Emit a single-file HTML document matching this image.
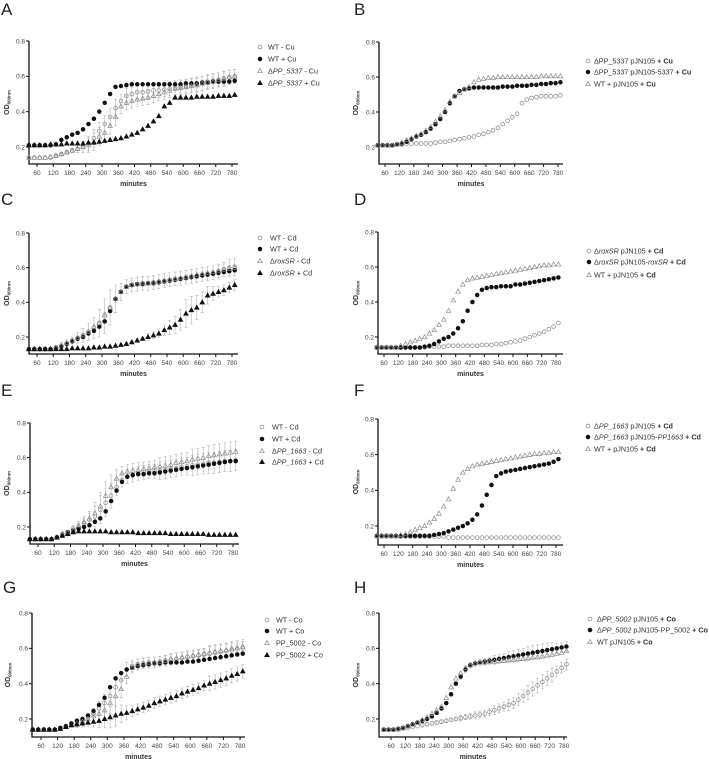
<!DOCTYPE html>
<html><head><meta charset="utf-8">
<style>
html,body{margin:0;padding:0;background:#fff;}
svg{display:block;font-family:"Liberation Sans",sans-serif;}
</style></head>
<body>
<svg id="fig" width="709" height="759" viewBox="0 0 709 759"></svg>
<script>
// Time points (minutes)
const times=[30,50,70,90,110,130,150,170,190,210,230,250,270,290,310,330,350,370,390,410,430,450,470,490,510,530,550,570,590,610,630,650,670,690,710,730,750,770,790];
const xTicks=[60,120,180,240,300,360,420,480,540,600,660,720,780];
const yTicks=[0.2,0.4,0.6,0.8];

// Panel A
const aWTminus=[0.14,0.14,0.14,0.14,0.14,0.15,0.16,0.17,0.18,0.19,0.20,0.22,0.25,0.29,0.33,0.37,0.42,0.46,0.49,0.50,0.51,0.51,0.515,0.52,0.52,0.525,0.53,0.535,0.54,0.545,0.55,0.555,0.56,0.57,0.575,0.58,0.59,0.595,0.60];
const aWTplus=[0.21,0.21,0.21,0.21,0.21,0.215,0.24,0.255,0.27,0.28,0.30,0.33,0.36,0.40,0.45,0.50,0.54,0.545,0.55,0.555,0.555,0.555,0.555,0.555,0.555,0.555,0.555,0.555,0.555,0.56,0.56,0.56,0.565,0.565,0.57,0.57,0.57,0.57,0.575];
const aKOminus=[0.14,0.14,0.14,0.14,0.145,0.15,0.16,0.17,0.18,0.19,0.20,0.21,0.23,0.26,0.28,0.32,0.37,0.43,0.45,0.46,0.47,0.475,0.48,0.49,0.50,0.51,0.52,0.53,0.535,0.54,0.545,0.55,0.56,0.565,0.57,0.58,0.585,0.595,0.60];
const aKOplus=[0.21,0.21,0.21,0.21,0.215,0.215,0.215,0.22,0.22,0.22,0.22,0.225,0.225,0.23,0.235,0.24,0.245,0.25,0.26,0.27,0.28,0.30,0.32,0.345,0.375,0.43,0.45,0.48,0.48,0.48,0.48,0.485,0.485,0.485,0.485,0.49,0.49,0.49,0.495];
const aErr=[0,0,0,0,0,0.01,0.01,0.01,0.01,0.02,0.03,0.04,0.05,0.05,0.05,0.05,0.05,0.04,0.04,0.04,0.04,0.04,0.04,0.04,0.04,0.04,0.04,0.04,0.04,0.04,0.04,0.04,0.04,0.04,0.04,0.04,0.04,0.04,0.04];
// Panel B
const bKOvec=[0.21,0.21,0.21,0.21,0.215,0.215,0.22,0.22,0.22,0.22,0.22,0.22,0.225,0.23,0.23,0.235,0.24,0.245,0.25,0.255,0.26,0.27,0.275,0.285,0.295,0.31,0.33,0.35,0.37,0.39,0.45,0.47,0.48,0.485,0.49,0.49,0.49,0.49,0.495];
const bKOcomp=[0.21,0.21,0.21,0.21,0.215,0.22,0.23,0.245,0.26,0.27,0.285,0.305,0.33,0.36,0.40,0.45,0.49,0.52,0.53,0.535,0.54,0.54,0.54,0.54,0.54,0.54,0.545,0.545,0.545,0.55,0.55,0.55,0.555,0.555,0.56,0.56,0.565,0.565,0.57];
const bWTvec=[0.21,0.21,0.21,0.21,0.215,0.225,0.24,0.25,0.265,0.275,0.295,0.315,0.345,0.375,0.41,0.46,0.49,0.51,0.53,0.545,0.57,0.585,0.59,0.595,0.595,0.60,0.60,0.60,0.60,0.60,0.60,0.60,0.60,0.60,0.605,0.605,0.605,0.605,0.605];
// Panel C
const cWTminus=[0.13,0.13,0.13,0.13,0.13,0.14,0.15,0.165,0.18,0.195,0.21,0.23,0.25,0.28,0.32,0.37,0.42,0.46,0.49,0.50,0.505,0.51,0.51,0.515,0.52,0.525,0.53,0.535,0.54,0.545,0.55,0.555,0.56,0.565,0.57,0.58,0.59,0.60,0.605];
const cWTplus=[0.13,0.13,0.13,0.13,0.13,0.135,0.145,0.16,0.175,0.19,0.20,0.22,0.235,0.26,0.29,0.35,0.42,0.46,0.49,0.50,0.505,0.505,0.51,0.51,0.515,0.52,0.525,0.53,0.535,0.54,0.545,0.55,0.555,0.56,0.565,0.57,0.575,0.58,0.585];
const cKOminus=[0.13,0.13,0.13,0.13,0.13,0.14,0.15,0.165,0.18,0.195,0.21,0.23,0.26,0.28,0.33,0.37,0.42,0.46,0.49,0.50,0.505,0.51,0.51,0.515,0.52,0.525,0.53,0.535,0.54,0.545,0.55,0.56,0.565,0.57,0.575,0.58,0.59,0.595,0.60];
const cKOplus=[0.13,0.13,0.13,0.13,0.13,0.13,0.13,0.13,0.135,0.135,0.135,0.135,0.14,0.14,0.145,0.145,0.15,0.155,0.16,0.17,0.18,0.19,0.20,0.21,0.22,0.24,0.255,0.27,0.30,0.335,0.355,0.37,0.40,0.44,0.45,0.46,0.47,0.485,0.50];
const cErrWT=[0,0,0,0,0,0.01,0.02,0.02,0.02,0.03,0.04,0.05,0.06,0.08,0.10,0.10,0.08,0.05,0.04,0.04,0.04,0.04,0.04,0.04,0.04,0.04,0.04,0.04,0.04,0.04,0.04,0.04,0.04,0.04,0.04,0.04,0.04,0.05,0.05];
const cErrKO=[0,0,0,0,0,0,0,0,0,0,0,0,0,0,0,0,0,0,0.01,0.01,0.01,0.01,0.02,0.02,0.02,0.03,0.04,0.05,0.06,0.08,0.08,0.07,0.06,0.05,0.04,0.03,0.03,0.03,0.03];
// Panel D
const dKOvec=[0.14,0.14,0.14,0.14,0.14,0.14,0.14,0.14,0.14,0.14,0.14,0.145,0.145,0.145,0.145,0.15,0.15,0.15,0.15,0.15,0.15,0.15,0.155,0.155,0.155,0.16,0.16,0.165,0.17,0.175,0.18,0.19,0.20,0.21,0.22,0.23,0.245,0.26,0.28];
const dKOcomp=[0.14,0.14,0.14,0.14,0.14,0.14,0.14,0.14,0.14,0.14,0.145,0.15,0.16,0.175,0.19,0.20,0.22,0.25,0.29,0.35,0.40,0.44,0.47,0.48,0.485,0.485,0.49,0.49,0.49,0.50,0.50,0.505,0.51,0.515,0.52,0.525,0.53,0.535,0.54];
const dWTvec=[0.14,0.14,0.14,0.14,0.14,0.15,0.16,0.17,0.18,0.19,0.20,0.22,0.24,0.27,0.30,0.35,0.41,0.46,0.50,0.525,0.535,0.54,0.545,0.55,0.555,0.56,0.565,0.57,0.575,0.58,0.585,0.59,0.595,0.60,0.605,0.61,0.61,0.615,0.615];
// Panel E
const eWTminus=[0.13,0.13,0.13,0.13,0.13,0.14,0.16,0.17,0.19,0.20,0.22,0.24,0.26,0.30,0.34,0.38,0.43,0.47,0.49,0.50,0.51,0.515,0.52,0.52,0.525,0.53,0.535,0.54,0.545,0.55,0.555,0.56,0.565,0.57,0.57,0.575,0.58,0.58,0.585];
const eWTplus=[0.13,0.13,0.13,0.13,0.13,0.14,0.15,0.17,0.18,0.19,0.20,0.21,0.23,0.25,0.29,0.35,0.41,0.46,0.49,0.50,0.505,0.505,0.51,0.51,0.515,0.52,0.525,0.53,0.535,0.54,0.545,0.55,0.555,0.56,0.565,0.57,0.575,0.58,0.58];
const eKOminus=[0.13,0.13,0.13,0.13,0.13,0.14,0.16,0.17,0.18,0.21,0.23,0.25,0.28,0.32,0.38,0.43,0.48,0.51,0.52,0.525,0.53,0.535,0.54,0.545,0.55,0.555,0.56,0.57,0.575,0.58,0.59,0.595,0.60,0.61,0.615,0.62,0.625,0.63,0.635];
const eKOplus=[0.13,0.13,0.13,0.13,0.13,0.14,0.15,0.16,0.17,0.175,0.175,0.175,0.175,0.175,0.175,0.17,0.17,0.17,0.17,0.17,0.165,0.165,0.165,0.165,0.165,0.165,0.16,0.16,0.16,0.16,0.16,0.16,0.16,0.155,0.155,0.155,0.155,0.155,0.155];
const eErr=[0,0,0,0,0,0.01,0.01,0.01,0.02,0.02,0.03,0.04,0.06,0.08,0.08,0.07,0.05,0.04,0.04,0.04,0.04,0.04,0.04,0.04,0.05,0.05,0.05,0.05,0.05,0.05,0.06,0.06,0.06,0.06,0.06,0.06,0.06,0.06,0.06];
// Panel F
const fKOvec=[0.14,0.14,0.14,0.14,0.14,0.14,0.14,0.14,0.14,0.14,0.14,0.14,0.14,0.14,0.14,0.135,0.135,0.135,0.135,0.135,0.135,0.135,0.135,0.135,0.135,0.135,0.135,0.135,0.135,0.135,0.135,0.135,0.135,0.135,0.135,0.135,0.135,0.135,0.135];
const fKOcomp=[0.145,0.145,0.145,0.145,0.145,0.145,0.145,0.145,0.145,0.145,0.145,0.145,0.15,0.155,0.16,0.17,0.18,0.19,0.20,0.215,0.235,0.265,0.315,0.375,0.43,0.48,0.495,0.505,0.51,0.515,0.52,0.525,0.53,0.535,0.54,0.545,0.55,0.56,0.575];
const fWTvec=[0.145,0.145,0.145,0.145,0.145,0.15,0.155,0.165,0.18,0.19,0.20,0.22,0.24,0.27,0.31,0.35,0.41,0.46,0.50,0.52,0.535,0.545,0.55,0.555,0.56,0.565,0.57,0.575,0.58,0.585,0.59,0.595,0.60,0.605,0.605,0.61,0.61,0.615,0.615];
// Panel G
const gWTminus=[0.14,0.14,0.14,0.14,0.14,0.145,0.155,0.165,0.18,0.19,0.21,0.23,0.26,0.29,0.33,0.38,0.42,0.48,0.50,0.51,0.515,0.52,0.52,0.525,0.53,0.535,0.54,0.545,0.55,0.555,0.56,0.565,0.57,0.575,0.58,0.585,0.59,0.595,0.60];
const gWTplus=[0.14,0.14,0.14,0.14,0.14,0.15,0.16,0.175,0.19,0.20,0.22,0.245,0.28,0.32,0.38,0.43,0.46,0.48,0.49,0.50,0.505,0.51,0.515,0.515,0.52,0.52,0.52,0.52,0.525,0.525,0.53,0.535,0.54,0.545,0.55,0.555,0.56,0.565,0.57];
const gKOminus=[0.14,0.14,0.14,0.14,0.14,0.145,0.155,0.165,0.175,0.185,0.20,0.22,0.23,0.25,0.29,0.33,0.37,0.44,0.49,0.51,0.515,0.52,0.52,0.525,0.53,0.54,0.545,0.55,0.555,0.56,0.565,0.57,0.575,0.58,0.585,0.59,0.60,0.605,0.61];
const gKOplus=[0.14,0.14,0.14,0.14,0.14,0.145,0.155,0.165,0.17,0.175,0.18,0.185,0.19,0.20,0.21,0.22,0.23,0.235,0.245,0.255,0.265,0.275,0.29,0.30,0.31,0.32,0.33,0.345,0.355,0.365,0.375,0.39,0.40,0.41,0.42,0.43,0.445,0.455,0.47];
const gErr=[0,0,0,0,0,0.01,0.01,0.01,0.02,0.02,0.02,0.03,0.04,0.05,0.06,0.06,0.05,0.04,0.03,0.03,0.03,0.03,0.03,0.03,0.03,0.03,0.03,0.03,0.03,0.03,0.03,0.03,0.04,0.04,0.04,0.04,0.04,0.04,0.04];
// Panel H
const hKOvec=[0.14,0.14,0.14,0.14,0.145,0.15,0.155,0.16,0.165,0.17,0.175,0.18,0.185,0.19,0.195,0.20,0.205,0.21,0.215,0.22,0.225,0.23,0.24,0.25,0.26,0.27,0.28,0.29,0.31,0.33,0.35,0.37,0.39,0.41,0.43,0.45,0.47,0.49,0.51];
const hKOcomp=[0.14,0.14,0.14,0.145,0.15,0.16,0.17,0.18,0.19,0.20,0.215,0.235,0.26,0.29,0.34,0.40,0.44,0.48,0.505,0.515,0.52,0.525,0.53,0.535,0.54,0.545,0.55,0.555,0.56,0.565,0.57,0.575,0.58,0.585,0.59,0.595,0.60,0.605,0.61];
const hWTvec=[0.14,0.14,0.14,0.145,0.15,0.16,0.17,0.18,0.195,0.21,0.23,0.25,0.27,0.32,0.38,0.43,0.46,0.49,0.505,0.515,0.52,0.52,0.525,0.525,0.53,0.53,0.535,0.535,0.54,0.54,0.545,0.55,0.55,0.555,0.56,0.565,0.57,0.575,0.585];
const hErr=[0,0,0,0,0,0,0,0,0.01,0.01,0.01,0.01,0.01,0.01,0.01,0.01,0.015,0.015,0.015,0.02,0.02,0.02,0.02,0.025,0.025,0.025,0.03,0.03,0.035,0.035,0.04,0.04,0.04,0.04,0.04,0.04,0.03,0.03,0.03];

const NS="http://www.w3.org/2000/svg";
const svg=document.getElementById('fig');
function mk(tag,attrs,parent){const e=document.createElementNS(NS,tag);for(const k in attrs)e.setAttribute(k,attrs[k]);(parent||svg).appendChild(e);return e;}

const panels=[
 {id:'a',L:'A',lx:1,ly:15,x0:29,xa:37,xb:232,xe:238,y8:41,y2:147,yb:164,odx:9,
  series:[[aWTminus,'circle',0,'wt-minus-cu',aErr],[aWTplus,'circle',1,'wt-plus-cu'],[aKOminus,'tri',0,'ko-minus-cu',aErr],[aKOplus,'tri',1,'ko-plus-cu']],
  leg:{mx:260,tx:268,ys:[47,59,71,83],items:[['WT - Cu'],['WT + Cu'],['Δ',['PP_5337','i'],' - Cu'],['Δ',['PP_5337','i'],' + Cu']]}},
 {id:'b',L:'B',lx:354,ly:15,x0:379,xa:385,xb:558,xe:563,y8:42,y2:147,yb:164,odx:358,
  series:[[bKOvec,'circle',0,'ko-vector-cu'],[bKOcomp,'circle',1,'ko-complemented-cu'],[bWTvec,'tri',0,'wt-vector-cu']],
  leg:{mx:588,tx:594,ys:[61,72,84],items:[['ΔPP_5337 pJN105 ',['+ Cu','b']],['ΔPP_5337 pJN105-5337 ',['+ Cu','b']],['WT + pJN105 ',['+ Cu','b']]]}},
 {id:'c',L:'C',lx:1,ly:205,x0:29,xa:37,xb:232,xe:238,y8:233,y2:337,yb:354,odx:9,
  series:[[cWTminus,'circle',0,'wt-minus-cd',cErrWT],[cWTplus,'circle',1,'wt-plus-cd'],[cKOminus,'tri',0,'roxsr-minus-cd'],[cKOplus,'tri',1,'roxsr-plus-cd',cErrKO]],
  leg:{mx:260,tx:270,ys:[238,249,261,273],items:[['WT - Cd'],['WT + Cd'],['Δ',['roxSR','i'],' - Cd'],['Δ',['roxSR','i'],' + Cd']]}},
 {id:'d',L:'D',lx:354,ly:205,x0:378,xa:384,xb:556,xe:563,y8:232,y2:337,yb:354,odx:358,
  series:[[dKOvec,'circle',0,'roxsr-vector-cd'],[dKOcomp,'circle',1,'roxsr-complemented-cd'],[dWTvec,'tri',0,'wt-vector-cd']],
  leg:{mx:589,tx:594,ys:[251,262,275],items:[['Δ',['roxSR','i'],' pJN105 ',['+ Cd','b']],['Δ',['roxSR','i'],' pJN105-',['roxSR','i'],' ',['+ Cd','b']],['WT + pJN105 ',['+ Cd','b']]]}},
 {id:'e',L:'E',lx:1,ly:396,x0:30,xa:38,xb:233,xe:239,y8:423,y2:527,yb:544,odx:9,
  series:[[eWTminus,'circle',0,'wt-minus-cd',eErr],[eWTplus,'circle',1,'wt-plus-cd'],[eKOminus,'tri',0,'pp1663-minus-cd',eErr],[eKOplus,'tri',1,'pp1663-plus-cd']],
  leg:{mx:262,tx:272,ys:[427,439,451,462],items:[['WT - Cd'],['WT + Cd'],['Δ',['PP_1663','i'],' - Cd'],['Δ',['PP_1663','i'],' + Cd']]}},
 {id:'f',L:'F',lx:354,ly:396,x0:378,xa:384,xb:556,xe:563,y8:419,y2:526,yb:545,odx:358,
  series:[[fKOvec,'circle',0,'pp1663-vector-cd'],[fKOcomp,'circle',1,'pp1663-complemented-cd'],[fWTvec,'tri',0,'wt-vector-cd']],
  leg:{mx:588,tx:594,ys:[426,437,449],items:[['Δ',['PP_1663','i'],' pJN105 ',['+ Cd','b']],['Δ',['PP_1663','i'],' pJN105-',['PP1663','i'],' ',['+ Cd','b']],['WT + pJN105 ',['+ Cd','b']]]}},
 {id:'g',L:'G',lx:3,ly:593,x0:32,xa:41,xb:240,xe:245,y8:613,y2:719,yb:737,odx:10,
  series:[[gWTminus,'circle',0,'wt-minus-co',gErr],[gWTplus,'circle',1,'wt-plus-co'],[gKOminus,'tri',0,'pp5002-minus-co',gErr],[gKOplus,'tri',1,'pp5002-plus-co',gErr]],
  leg:{mx:267,tx:276,ys:[620,631,643,655],items:[['WT - Co'],['WT + Co'],['PP_5002 - Co'],['PP_5002 + Co']]}},
 {id:'h',L:'H',lx:354,ly:593,x0:379,xa:391,xb:564,xe:567,y8:613,y2:719,yb:737,odx:358,
  series:[[hKOvec,'circle',0,'pp5002-vector-co',hErr],[hKOcomp,'circle',1,'pp5002-complemented-co',hErr],[hWTvec,'tri',0,'wt-vector-co']],
  leg:{mx:590,tx:597,ys:[619,630,642],items:[['Δ',['PP_5002','i'],' pJN105 ',['+ Co','b']],['Δ',['PP_5002','i'],' pJN105-PP_5002 ',['+ Co','b']],['WT pJN105 ',['+ Co','b']]]}}
];

function marker(g,type,filled,x,y){
  const fill=filled?'#111':'none', stroke=filled?'#111':'#8a8a8a';
  if(type==='circle') return mk('circle',{cx:x,cy:y,r:1.9,fill:fill,stroke:stroke,'stroke-width':0.7},g);
  return mk('path',{d:`M${x},${y-2.4}L${x+2.3},${y+1.7}L${x-2.3},${y+1.7}Z`,fill:fill,stroke:stroke,'stroke-width':0.7},g);
}

panels.forEach(p=>{
  const g=mk('g',{});
  
  
  const xs=t=>p.xa+(t-60)*(p.xb-p.xa)/720;
  const ys=v=>p.y2+(v-0.2)*(p.y8-p.y2)/0.6;
  const lt=mk('text',{x:p.lx,y:p.ly,'font-size':17,fill:'#222'},g);lt.textContent=p.L;
  
  
  const ax=mk('path',{d:`M${p.x0},${p.y8}V${p.yb}H${p.xe}`,fill:'none',stroke:'#111','stroke-width':1.3},g);
  
  
  yTicks.forEach(v=>{
    const y=ys(v);
    mk('line',{x1:p.x0-3,x2:p.x0,y1:y,y2:y,stroke:'#111','stroke-width':1},g);
    const t=mk('text',{x:p.x0-4,y:y+2.3,'font-size':6.5,'text-anchor':'end',fill:'#444'},g);t.textContent=v.toFixed(1);
    
    
  });
  xTicks.forEach(v=>{
    const x=xs(v);
    mk('line',{x1:x,x2:x,y1:p.yb,y2:p.yb+3,stroke:'#111','stroke-width':1},g);
    const t=mk('text',{x:x,y:p.yb+11,'font-size':6.5,'text-anchor':'middle',fill:'#444'},g);t.textContent=v;
    
    
  });
  const xt=mk('text',{x:(p.x0+p.xe)/2,y:p.yb+22,'font-size':7,'font-weight':'bold','text-anchor':'middle',fill:'#333'},g);xt.textContent='minutes';
  
  
  const yc=(p.y8+p.yb)/2;
  const yt=mk('text',{x:p.odx,y:yc,'font-size':7,'font-weight':'bold','text-anchor':'middle',fill:'#333',transform:`rotate(-90 ${p.odx} ${yc})`},g);
  yt.innerHTML='OD<tspan font-size="4.5" dy="1.5">600nm</tspan>';
  
  
  // error bars
  p.series.forEach(s=>{
    if(!s[4]) return;
    const eg=mk('g',{stroke:'#b5b5b5','stroke-width':0.6,fill:'none'},g);
    
    
    s[4].forEach((e,i)=>{
      if(!e) return;
      const x=xs(times[i]);const y1=ys(s[0][i]-e),y2=ys(s[0][i]+e);
      mk('path',{d:`M${x},${y1}V${y2}M${x-1.5},${y1}H${x+1.5}M${x-1.5},${y2}H${x+1.5}`},eg);
    });
  });
  p.series.forEach(s=>{
    const sg=mk('g',{},g);
    
    
    s[0].forEach((v,i)=>{
      const m=marker(sg,s[1],s[2],xs(times[i]),ys(v));
      
      
    });
  });
  p.leg.items.forEach((it,i)=>{
    const s=p.series[i];const y=p.leg.ys[i];
    const lg=mk('g',{},g);
    
    
    marker(lg,s[1],s[2],p.leg.mx,y);
    const t=mk('text',{x:p.leg.tx,y:y+2.5,'font-size':7.2,fill:'#333'},lg);
    it.forEach(part=>{
      const ts=mk('tspan',{},t);
      if(typeof part==='string'){ts.textContent=part;}
      else{ts.textContent=part[0];if(part[1]==='i')ts.setAttribute('font-style','italic');else ts.setAttribute('font-weight','bold');}
    });
  });
});
</script>
</body></html>
